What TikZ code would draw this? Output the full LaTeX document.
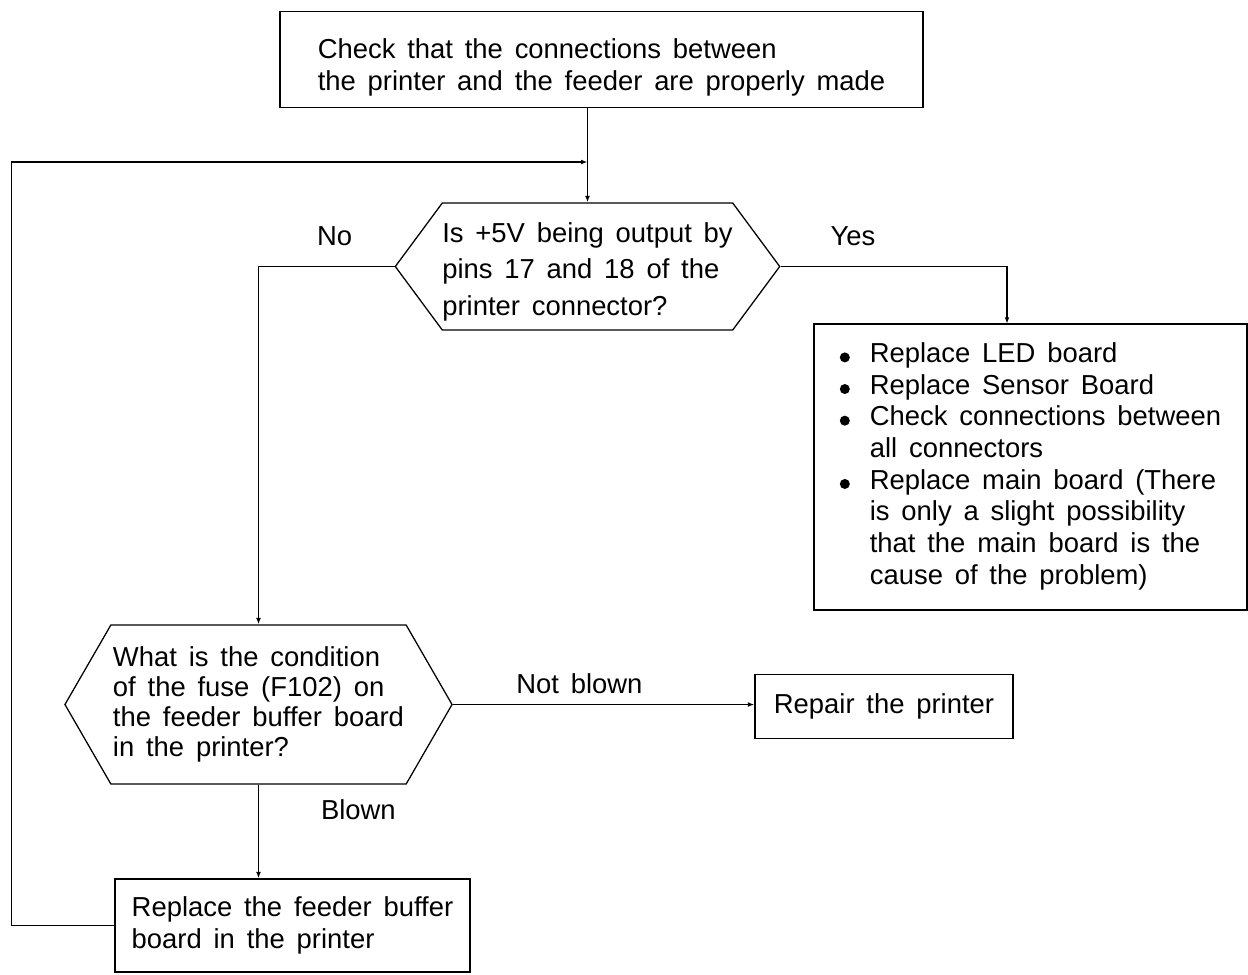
\documentclass[tikz,border=0pt]{standalone}
\usepackage{fontspec}
\setmainfont{Liberation Sans}[WordSpace=1.55]
\usetikzlibrary{arrows.meta, calc, positioning, shapes.symbols}

% filled dot for the list of repairs
\newcommand{\listdot}{\tikz[x=1cm, y=1cm, baseline=-0.13cm]\fill (0,0) circle (0.125cm);}
% text block set a little lower than the node centre
\newcommand{\lowtext}[2]{\raisebox{-#1}[\height][\depth]{\begin{tabular}{@{}l@{}}#2\end{tabular}}}

\tikzset{
    box/.style={draw, rectangle, align=left, inner sep=1pt},
    decision/.style={draw, signal, signal to=west and east, align=left, inner sep=0pt},
    flow/.style={-{Latex[length=1.6mm, width=1.2mm]}},
}

\begin{document}
\begin{tikzpicture}[x=0.025cm, y=-0.025cm, line width=0.9pt,
        font=\fontsize{19.5}{22.5}\selectfont]
    \useasboundingbox (0,0) rectangle (1248,974);

    \node[box, minimum width=16.075cm, minimum height=2.4cm] (check) at (601.5,59.5)
        {\lowtext{0.22cm}{Check that the connections between\\the printer and the feeder are properly made}};
    \node[decision, signal pointer angle=107, minimum width=9.525cm, minimum height=3.175cm,
        font=\fontsize{19.5}{26}\selectfont] (volt) at (587.5,266.5)
        {\lowtext{0.12cm}{Is +5V being output by\\pins 17 and 18 of the\\printer connector?}};
    \node[box, minimum width=10.825cm, minimum height=7.15cm] (res) at (1030.5,467)
        {\begin{tabular}{@{}c@{\hspace{0.5cm}}l@{}}
            \listdot & Replace LED board\\
            \listdot & Replace Sensor Board\\
            \listdot & Check connections between\\
                     & all connectors\\
            \listdot & Replace main board (There\\
                     & is only a slight possibility\\
                     & that the main board is the\\
                     & cause of the problem)
        \end{tabular}};
    \node[decision, signal pointer angle=120, minimum width=9.675cm, minimum height=3.975cm,
        font=\fontsize{19.5}{21.3}\selectfont] (fuse) at (258.5,704.5)
        {What is the condition\\of the fuse (F102) on\\the feeder buffer board\\in the printer?};
    \node[box, minimum width=6.45cm, minimum height=1.6cm] (repair) at (884,706.5)
        {Repair the printer};
    \node[box, minimum width=8.875cm, minimum height=2.325cm] (replace) at (292.5,925.5)
        {Replace the feeder buffer\\board in the printer};

    % the loop back joins the first arrow here
    \coordinate (merge) at (volt.north |- 0,162);

    \draw[flow] (check.south -| volt.north) -- (volt.north);
    \draw[flow] (volt.west) -| node[above=0.375cm, pos=0.22] {No} (fuse.north);
    \draw[flow] (volt.east) -| node[above=0.375cm, pos=0.16] {Yes} ($(res.north)+(-23.5,0)$);
    \draw[flow] (fuse.east) -- node[above=0.14cm, pos=0.42] {Not blown} (fuse.east -| repair.west);
    \draw[flow] (fuse.south) -- node[right=1.43cm, pos=0.27] {Blown} (fuse.south |- replace.north);
    \draw[flow] (replace.west) -- ++(-103,0) |- (merge);
\end{tikzpicture}
\end{document}
